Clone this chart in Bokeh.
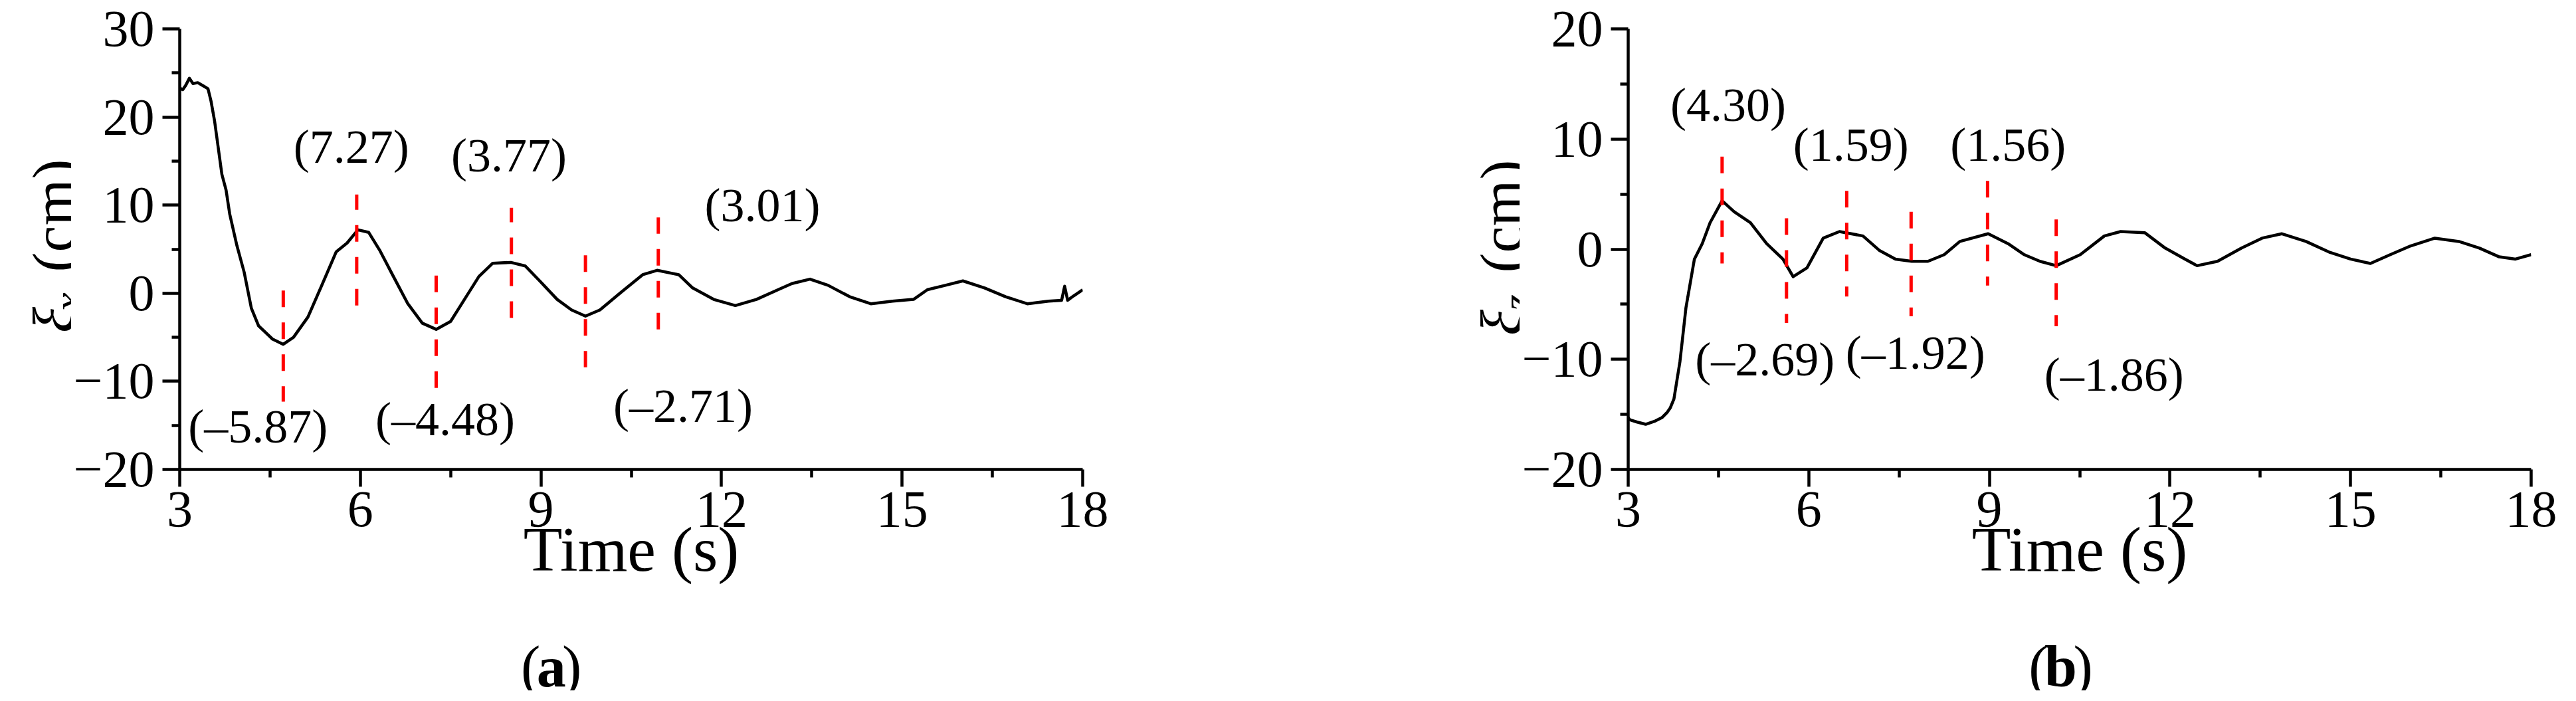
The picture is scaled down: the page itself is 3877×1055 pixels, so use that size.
import math
from bokeh.plotting import figure
from bokeh.layouts import row, column
from bokeh.models import Range1d, FixedTicker, Label
from bokeh.core.properties import value
from bokeh.embed import file_html
from bokeh.resources import INLINE

# ---------------- data: panel (a) ----------------
t_a = [3.0, 3.05, 3.1, 3.16, 3.22, 3.3, 3.4, 3.47, 3.52, 3.58, 3.64, 3.70, 3.77, 3.83, 3.95,
       4.07, 4.19, 4.31, 4.54, 4.72, 4.89, 5.13, 5.36, 5.6, 5.78, 5.96, 6.14, 6.32, 6.55,
       6.79, 7.03, 7.26, 7.5, 7.73, 7.97, 8.2, 8.5, 8.74, 8.98, 9.27, 9.51, 9.74, 9.98,
       10.33, 10.69, 10.93, 11.29, 11.52, 11.87, 12.23, 12.58, 12.94, 13.17, 13.47, 13.77,
       14.13, 14.48, 14.84, 15.19, 15.42, 15.72, 16.01, 16.37, 16.72, 17.08, 17.43, 17.65,
       17.7, 17.75, 17.85, 18.0]
xi_x = [23.3, 23.1, 23.6, 24.4, 23.8, 23.9, 23.5, 23.2, 21.8, 19.5, 16.5, 13.5, 11.7, 9.0, 5.4,
        2.4, -1.7, -3.7, -5.2, -5.8, -5.0, -2.7, 0.9, 4.7, 5.7, 7.2, 6.9, 4.9, 1.9,
        -1.2, -3.4, -4.1, -3.2, -0.7, 1.9, 3.4, 3.5, 3.1, 1.4, -0.7, -1.9, -2.6, -1.9,
        0.1, 2.1, 2.6, 2.1, 0.6, -0.7, -1.4, -0.7, 0.4, 1.1, 1.6, 0.9,
        -0.4, -1.2, -0.9, -0.7, 0.4, 0.9, 1.4, 0.6, -0.4, -1.2, -0.9, -0.8,
        0.8, -0.8, -0.3, 0.4]
peak_t_a = [4.72, 5.94, 7.26, 8.51, 9.74, 10.95]
peak_v_a = [-5.87, 7.27, -4.48, 3.77, -2.71, 3.01]
dash_y0_a = [0.3, -1.4, 2.0, -2.8, 4.3, -4.1]
dash_y1_a = [-12.3, 11.2, -10.8, 9.7, -8.4, 8.6]
lab_x_a = [4.30, 5.85, 7.41, 8.47, 11.36, 12.68]
lab_y_a = [-15.1, 16.6, -14.3, 15.6, -12.8, 10.0]

# ---------------- data: panel (b) ----------------
t_b = [3.0, 3.03, 3.15, 3.29, 3.45, 3.56, 3.65, 3.7, 3.76, 3.86, 3.96, 4.1, 4.23, 4.36, 4.56,
       4.76, 5.03, 5.3, 5.57, 5.74, 5.97, 6.24, 6.51, 6.9, 7.17, 7.44, 7.71, 7.98, 8.25,
       8.51, 8.98, 9.31, 9.58, 9.84, 10.11, 10.51, 10.91, 11.18, 11.58, 11.92, 12.25, 12.45,
       12.79, 13.19, 13.53, 13.86, 14.26, 14.66, 15.0, 15.33, 15.66, 16.0, 16.4, 16.8,
       17.14, 17.47, 17.74, 18.0]
xi_z = [-15.3, -15.5, -15.7, -15.9, -15.6, -15.3, -14.8, -14.4, -13.6, -10.2, -5.3, -0.9, 0.5,
        2.4, 4.4, 3.4, 2.4, 0.5, -0.9, -2.5, -1.7, 1.0, 1.6, 1.2, -0.1, -0.9, -1.1, -1.1,
        -0.5, 0.7, 1.4, 0.5, -0.5, -1.1, -1.5, -0.5, 1.2, 1.6, 1.5, 0.1, -0.9, -1.5,
        -1.1, 0.1, 1.0, 1.4, 0.7, -0.3, -0.9, -1.3, -0.5, 0.3, 1.0, 0.7,
        0.1, -0.7, -0.9, -0.5]
peak_t_b = [4.56, 5.63, 6.63, 7.70, 8.97, 10.11]
peak_v_b = [4.30, -2.69, 1.59, -1.92, 1.56, -1.86]
dash_y0_b = [8.4, 2.8, 5.3, 3.4, 6.2, 2.7]
dash_y1_b = [-1.3, -6.7, -4.3, -6.1, -3.3, -7.0]
lab_x_b = [4.66, 5.27, 6.70, 7.77, 9.31, 11.07]
lab_y_b = [13.1, -10.0, 9.5, -9.4, 9.5, -11.4]

x_major = [3, 6, 9, 12, 15, 18]
x_minor = [4.5, 7.5, 10.5, 13.5, 16.5]
y_major_a = [-20, -10, 0, 10, 20, 30]
y_minor_a = [-15, -5, 5, 15, 25]
y_major_b = [-20, -10, 0, 10, 20]
y_minor_b = [-15, -5, 5, 15]

FONT = "Liberation Serif"
PAGE_H = 1039
MAIN_H = 915
TOP = 8          # page margin
LEFT_BORDER = 145


def fmt(v):
    return "(" + f"{v:.2f}".replace("-", "\u2013") + ")"


def blank(width, height, x0):
    p = figure(width=width, height=height, x_range=Range1d(x0, x0 + width),
               y_range=Range1d(0, height), x_axis_type=None, y_axis_type=None,
               output_backend="svg", toolbar_location=None, min_border_left=0,
               min_border_right=0, min_border_top=0, min_border_bottom=0)
    p.outline_line_color = None
    p.background_fill_color = "white"
    p.border_fill_color = "white"
    return p


def main_panel(width, right, yr, ymaj, ymin, t, y, pt, d0, d1, vals, lx, ly):
    p = figure(width=width, height=MAIN_H, x_range=Range1d(3, 18), y_range=Range1d(*yr),
               output_backend="svg", toolbar_location=None,
               min_border_left=LEFT_BORDER, min_border_right=right,
               min_border_top=43, min_border_bottom=MAIN_H - 43 - 663)
    p.outline_line_color = None
    p.grid.visible = False
    p.background_fill_color = "white"
    p.border_fill_color = "white"
    p.xaxis.ticker = FixedTicker(ticks=x_major, minor_ticks=x_minor)
    p.yaxis.ticker = FixedTicker(ticks=ymaj, minor_ticks=ymin)
    for ax in (p.xaxis, p.yaxis):
        ax.axis_line_width = 4.5
        ax.axis_line_color = "black"
        ax.major_tick_line_width = 4.5
        ax.minor_tick_line_width = 4.5
        ax.major_tick_line_color = "black"
        ax.minor_tick_line_color = "black"
        ax.major_tick_in = 0
        ax.minor_tick_in = 0
        ax.major_tick_out = 26
        ax.minor_tick_out = 12
        ax.major_label_text_font = FONT
        ax.major_label_text_font_size = "78px"
        ax.major_label_text_color = "black"
    p.xaxis.major_label_standoff = 8
    p.yaxis.major_label_standoff = 12
    p.yaxis.major_label_orientation = "horizontal"
    p.xaxis.axis_label = "Time (s)"
    p.xaxis.axis_label_text_font = FONT
    p.xaxis.axis_label_text_font_size = "96px"
    p.xaxis.axis_label_text_font_style = "normal"
    p.xaxis.axis_label_text_color = "black"
    p.xaxis.axis_label_standoff = -22

    p.line(t, y, line_color="black", line_width=4.5, line_join="round")
    p.segment(x0=pt, y0=d0, x1=pt, y1=d1, line_color="#ff0000", line_width=5,
              line_dash="25 23")
    for v, xx, yy in zip(vals, lx, ly):
        p.add_layout(Label(x=xx, y=yy, text=fmt(v), text_font=FONT, text_font_size="72px",
                           text_align="center", text_baseline="middle", text_color="black"))
    return p


def ylabel_strip(width, x0, base_x, cm_Y, xi_Y, sub, sub_x, sub_Y):
    p = blank(width, PAGE_H, x0)
    H = PAGE_H + TOP
    p.text(x=[base_x], y=[H - cm_Y], text=["(cm)"], angle=math.pi / 2,
           text_font=value(FONT), text_font_size=value("90px"), text_align="center",
           text_baseline="alphabetic", text_color="black")
    p.text(x=[base_x], y=[H - xi_Y], text=["\u03be"], angle=math.pi / 2,
           text_font=value(FONT), text_font_size=value("92px"), text_font_style="italic",
           text_align="center", text_baseline="alphabetic", text_color="black")
    p.text(x=[sub_x], y=[H - sub_Y], text=[sub], angle=math.pi / 2,
           text_font=value(FONT), text_font_size=value("64px"), text_font_style="italic",
           text_align="center", text_baseline="alphabetic", text_color="black")
    return p


def caption_strip(width, x0, cx, letter):
    h = PAGE_H - MAIN_H
    p = blank(width, h, x0)
    H = PAGE_H + TOP
    yb = H - 1011
    half = 22
    p.text(x=[cx - half], y=[yb], text=["("], text_font=value(FONT),
           text_font_size=value("88px"), text_align="right", text_baseline="alphabetic",
           text_color="black")
    p.text(x=[cx], y=[yb], text=[letter], text_font=value(FONT),
           text_font_size=value("88px"), text_font_style="bold", text_align="center",
           text_baseline="alphabetic", text_color="black")
    p.text(x=[cx + half], y=[yb], text=[")"], text_font=value(FONT),
           text_font_size=value("88px"), text_align="left", text_baseline="alphabetic",
           text_color="black")
    return p


# panel (a): page x 8..1950 ; plot frame 260..1637
xa_split = 260 - LEFT_BORDER
strip_a = ylabel_strip(xa_split - 8, 8, 89, 332, 489, "x", 110, 462)
main_a = main_panel(1950 - xa_split, 1950 - xa_split - LEFT_BORDER - 1377, (-20, 30),
                    y_major_a, y_minor_a, t_a, xi_x, peak_t_a,
                    dash_y0_a, dash_y1_a, peak_v_a, lab_x_a, lab_y_a)
cap_a = caption_strip(1950 - xa_split, xa_split, 870, "a")

# panel (b): page x 1950..3869 ; plot frame 2440..3817
xb_split = 2440 - LEFT_BORDER
strip_b = ylabel_strip(xb_split - 1950, 1950, 2268, 333, 493, "z", 2290, 463)
main_b = main_panel(3869 - xb_split, 3869 - xb_split - LEFT_BORDER - 1377, (-20, 20),
                    y_major_b, y_minor_b, t_b, xi_z, peak_t_b,
                    dash_y0_b, dash_y1_b, peak_v_b, lab_x_b, lab_y_b)
cap_b = caption_strip(3869 - xb_split, xb_split, 3049, "b")

layout = row(strip_a, column(main_a, cap_a), strip_b, column(main_b, cap_b))
open("out.html", "w").write(file_html(layout, INLINE))
